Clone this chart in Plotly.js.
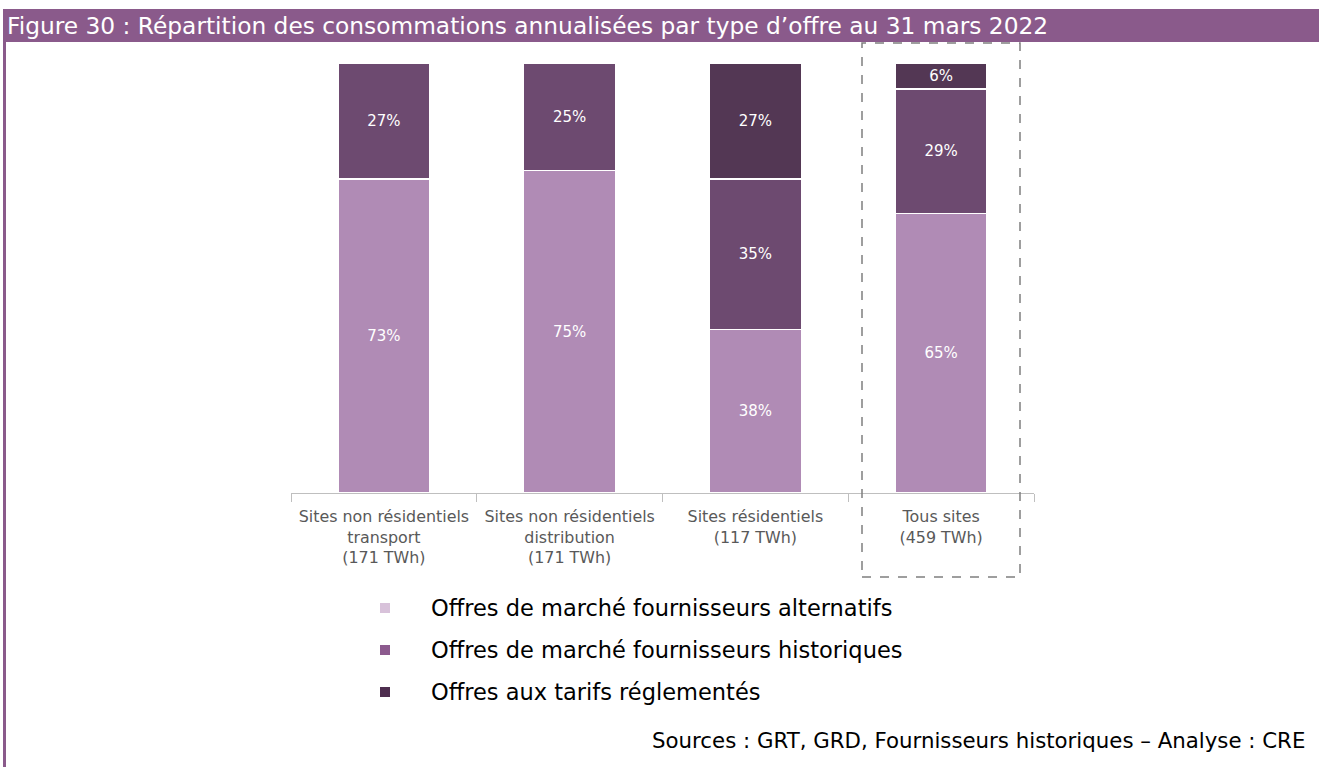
<!DOCTYPE html>
<html>
<head>
<meta charset="utf-8">
<script src="https://cdn.plot.ly/plotly-3.0.1.min.js"></script>
<style>html,body{margin:0;padding:0;background:#fff;}#chart{width:1319px;height:767px;}</style>
</head>
<body>
<div id="chart"></div>
<script>
const categories = [
  "Sites non résidentiels<br>transport<br>(171 TWh)",
  "Sites non résidentiels<br>distribution<br>(171 TWh)",
  "Sites résidentiels<br>(117 TWh)",
  "Tous sites<br>(459 TWh)"
];
const alternatifs = [73, 75, 38, 65];
const historiques = [27, 25, 35, 29];
const reglementes = [0, 0, 27, 6];
const seriesNames = [
  "Offres de marché fournisseurs alternatifs",
  "Offres de marché fournisseurs historiques",
  "Offres aux tarifs réglementés"
];
const titleText = "Figure 30 : Répartition des consommations annualisées par type d’offre au 31 mars 2022";
const sourceText = "Sources : GRT, GRD, Fournisseurs historiques – Analyse : CRE";

const barColors = ["#b08bb5", "#6d4a70", "#533754"];
const legendColors = ["#d8c2da", "#8c5a8e", "#4e2e4f"];
const FONT = "DejaVu Sans, Liberation Sans, Arial, sans-serif";

// pixel -> paper helpers (plot area: x 291..1034, y 63..493)
const L = 291, R = 1034, T = 63, B = 493;
const px = v => (v - L) / (R - L);
const py = v => (B - v) / (B - T);

function mk(vals, i) {
  return {
    type: "bar",
    x: categories,
    y: vals.map(v => v === 0 ? null : v),
    name: seriesNames[i],
    showlegend: false,
    marker: {color: barColors[i], line: {color: "#ffffff", width: 1.5}},
    text: vals.map(v => v === 0 ? "" : v + "%"),
    textposition: "inside",
    insidetextanchor: "middle",
    textangle: 0,
    constraintext: "none",
    textfont: {color: "#ffffff", size: 15, family: FONT},
    hoverinfo: "skip",
    width: 0.495
  };
}
const data = [mk(alternatifs, 0), mk(historiques, 1), mk(reglementes, 2)];

const shapes = [
  {type: "rect", xref: "paper", yref: "paper", x0: px(3), x1: px(1319), y0: py(42), y1: py(9),
   fillcolor: "#8a5a8b", line: {width: 0}, layer: "below"},
  {type: "line", xref: "paper", yref: "paper", x0: px(4.5), x1: px(4.5), y0: py(42), y1: py(767),
   line: {color: "#8a5a8b", width: 3}},
  {type: "rect", xref: "paper", yref: "paper", x0: px(862), x1: px(1020), y0: py(577), y1: py(43),
   line: {color: "#7f7f7f", width: 1.5, dash: "dash"}, fillcolor: "rgba(0,0,0,0)"}
];
const annotations = [
  {xref: "paper", yref: "paper", x: px(5), y: py(26), xanchor: "left", yanchor: "middle",
   text: titleText, showarrow: false, font: {color: "#ffffff", size: 23.3, family: FONT}},
  {xref: "paper", yref: "paper", x: px(1307), y: py(740), xanchor: "right", yanchor: "middle",
   text: sourceText, showarrow: false, font: {color: "#000000", size: 21.3, family: FONT}}
];
const legendY = [608, 650, 692];
seriesNames.forEach((n, i) => {
  shapes.push({type: "rect", xref: "paper", yref: "paper", x0: px(380), x1: px(390),
    y0: py(legendY[i] + 5), y1: py(legendY[i] - 5), fillcolor: legendColors[i], line: {width: 0}});
  annotations.push({xref: "paper", yref: "paper", x: px(429), y: py(legendY[i]), xanchor: "left", yanchor: "middle",
    text: n, showarrow: false, font: {color: "#000000", size: 22.5, family: FONT}});
});

const layout = {
  width: 1319, height: 767,
  margin: {l: L, r: 1319 - R, t: T, b: 767 - B, pad: 0},
  paper_bgcolor: "#ffffff", plot_bgcolor: "#ffffff",
  barmode: "stack",
  showlegend: false,
  xaxis: {
    type: "category", range: [-0.5, 3.5], fixedrange: true,
    showline: true, linecolor: "#bfbfbf", linewidth: 1,
    ticks: "outside", tickson: "boundaries", ticklen: 8, tickcolor: "#bfbfbf",
    ticklabelstandoff: 9,
    tickfont: {color: "#595959", size: 15.9, family: FONT},
    showgrid: false, zeroline: false
  },
  yaxis: {range: [0, 100], visible: false, showgrid: false, zeroline: false, fixedrange: true},
  shapes: shapes,
  annotations: annotations,
  font: {family: FONT}
};
Plotly.newPlot("chart", data, layout, {displayModeBar: false, staticPlot: true});
</script>
</body>
</html>
